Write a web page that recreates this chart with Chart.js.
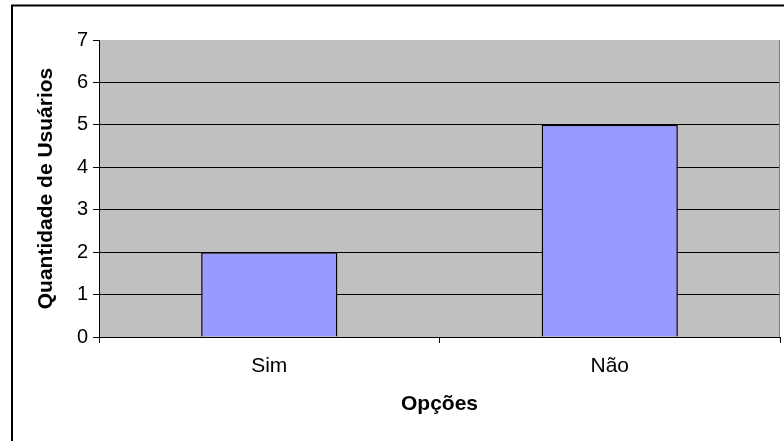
<!DOCTYPE html>
<html>
<head>
<meta charset="utf-8">
<script src="https://cdn.jsdelivr.net/npm/chart.js@4.4.1/dist/chart.umd.min.js"></script>
<style>
  html, body { margin: 0; padding: 0; background: #fff; }
  canvas { display: block; }
</style>
</head>
<body>
<canvas id="usuariosChart" width="784" height="441"></canvas>
<script>
const categories = ['Sim', 'Não'];
const usuarios = [2, 5];
const yMin = 0;
const yMax = 7;
const yStep = 1;

// fundo cinza da área do gráfico + moldura externa
const plotBackground = {
    id: 'plotBackground',
    beforeDraw(chart) {
        const { ctx, chartArea } = chart;
        ctx.save();
        ctx.fillStyle = '#C0C0C0';
        ctx.fillRect(chartArea.left, chartArea.top, chartArea.right - chartArea.left, chartArea.bottom - chartArea.top);
        ctx.restore();
    },
    afterDraw(chart) {
        const { ctx, chartArea } = chart;
        ctx.save();
        ctx.strokeStyle = '#808080';
        ctx.lineWidth = 1;
        ctx.beginPath();
        ctx.moveTo(chartArea.right - 0.5, chartArea.top);
        ctx.lineTo(chartArea.right - 0.5, chartArea.bottom);
        ctx.stroke();
        ctx.strokeStyle = '#000';
        ctx.lineWidth = 2;
        ctx.strokeRect(12, 5.5, 1000, 1000);
        ctx.restore();
    }
};

Chart.defaults.font.family = '"Liberation Sans", Arial, sans-serif';
Chart.defaults.color = '#000';

const ctx = document.getElementById('usuariosChart').getContext('2d');
new Chart(ctx, {
    type: 'bar',
    data: {
        labels: categories,
        datasets: [{
            data: usuarios,
            backgroundColor: '#9999FF',
            borderColor: '#000',
            borderWidth: 1.5,
            categoryPercentage: 1,
            barPercentage: 0.4
        }]
    },
    options: {
        responsive: false,
        animation: false,
        layout: { padding: { top: 40, right: 4, left: 0, bottom: 0 } },
        plugins: {
            legend: { display: false },
            tooltip: { enabled: false }
        },
        scales: {
            x: {
                offset: true,
                afterFit: scale => { scale.height = 104; },
                grid: {
                    drawOnChartArea: false,
                    drawTicks: true,
                    tickLength: 6,
                    color: '#000'
                },
                border: { color: '#000', width: 1 },
                ticks: { font: { size: 21 }, padding: 11 },
                title: {
                    display: true,
                    text: 'Opções',
                    font: { size: 21, weight: 'bold' },
                    padding: { top: 0, bottom: 24 }
                }
            },
            y: {
                min: yMin,
                max: yMax,
                afterFit: scale => { scale.width = 99; },
                grid: {
                    color: c => (c.tick && c.tick.value === yMax) ? 'rgba(0,0,0,0)' : '#000',
                    tickColor: '#000',
                    tickLength: 6
                },
                border: { color: '#000', width: 1 },
                ticks: { stepSize: yStep, font: { size: 20 }, padding: 5 },
                title: {
                    display: true,
                    text: 'Quantidade de Usuários',
                    font: { size: 21, weight: 'bold' },
                    padding: { top: 34, bottom: 0 }
                }
            }
        }
    },
    plugins: [plotBackground]
});
</script>
</body>
</html>
